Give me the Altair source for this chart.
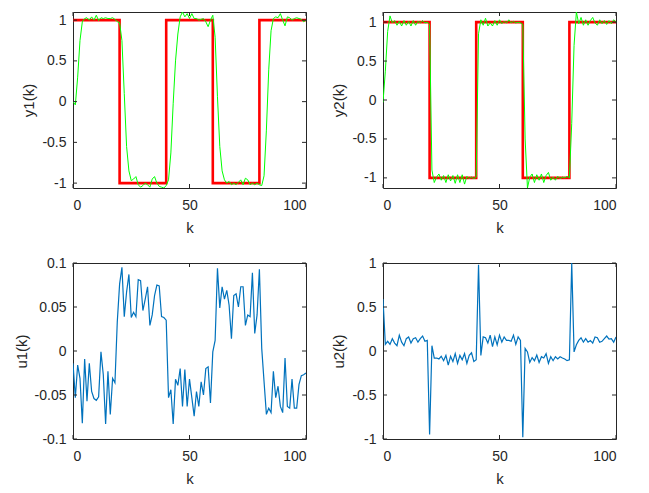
import altair as alt
import pandas as pd

# sample index
k = list(range(101))

# square-wave reference shared by both outputs
ref = [1] * 20 + [-1] * 20 + [1] * 20 + [-1] * 20 + [1] * 21

# output 1
y1 = [0.0, -0.04, 0.3, 0.75, 0.98, 1.02, 1.03, 1.0, 1.04, 1.0,
      1.06, 0.995, 1.03, 1.02, 1.03, 1.02, 1.02, 1.03, 1.01, 0.98,
      0.97, 0.75, 0.1, -0.55, -0.85, -0.97, -0.95, -0.92, -1.02, -1.05,
      -1.03, -1.0, -1.02, -1.05, -0.95, -0.92, -1.0, -1.04, -1.05, -1.06,
      -1.03, -0.96, -0.63, -0.02, 0.5, 0.83, 1.04, 1.1, 1.04, 1.08,
      1.02, 1.08, 1.02, 1.02, 1.0, 1.01, 1.02, 0.98, 0.92, 1.0,
      1.06, 0.79, 0.06, -0.55, -0.85, -0.96, -1.0, -0.98, -1.02, -1.0,
      -1.02, -0.99, -0.96, -1.02, -0.94, -0.96, -1.02, -1.0, -1.02, -1.0,
      -1.02, -1.03, -0.91, -0.35, 0.39, 0.87, 1.02, 1.04, 1.03, 1.08,
      1.0, 0.93, 1.04, 1.03, 1.0, 1.02, 1.03, 1.02, 1.01, 0.98, 1.0]

# output 2
y2 = [-0.03, 0.37, 0.88, 1.08, 0.99, 1.02, 0.96, 1.01, 0.95, 1.02,
      0.96, 1.01, 0.95, 1.02, 0.96, 1.01, 0.99, 1.02, 0.99, 1.0,
      0.97, -0.9, -1.06, -0.99, -0.95, -1.03, -0.97, -1.06, -0.96, -1.04,
      -0.97, -1.07, -0.96, -1.06, -0.96, -1.08, -0.98, -1.01, -0.99, -1.01,
      -0.99, 0.85, 1.03, 0.96, 1.05, 0.95, 0.99, 0.95, 1.02, 0.96,
      1.03, 0.98, 1.01, 0.99, 1.03, 0.99, 1.01, 0.99, 1.0, 0.99,
      0.97, -0.5, -1.13, -0.99, -0.95, -1.06, -0.96, -1.03, -0.95, -1.06,
      -0.97, -0.93, -1.03, -0.99, -1.03, -0.98, -1.01, -0.99, -1.0, -0.98,
      -1.0, -0.3, 0.7, 1.13, 0.98, 1.06, 0.96, 1.03, 0.96, 1.02,
      1.06, 0.99, 0.96, 1.03, 0.98, 1.02, 0.97, 1.02, 0.98, 1.03, 1.0]

# control input 1
u1 = [-0.014, -0.053, -0.016, -0.031, -0.082, -0.009, -0.057, -0.014, -0.046, -0.054,
      -0.056, -0.052, -0.001, -0.027, -0.083, -0.023, -0.072, -0.031, -0.036, 0.033,
      0.076, 0.095, 0.039, 0.067, 0.087, 0.038, 0.044, 0.039, 0.081, 0.080,
      0.046, 0.059, 0.073, 0.029, 0.041, 0.063, 0.075, 0.074, 0.039, 0.038,
      0.035, -0.053, -0.044, -0.083, -0.032, -0.039, -0.020, -0.063, -0.021, -0.063,
      -0.032, -0.053, -0.074, -0.046, -0.063, -0.035, -0.050, -0.020, -0.018, -0.059,
      -0.001, 0.012, 0.094, 0.049, 0.073, 0.059, 0.069, 0.052, 0.014, 0.063,
      0.065, 0.050, 0.073, 0.073, 0.029, 0.041, 0.039, 0.089, 0.020, 0.041,
      0.093, 0.003, -0.035, -0.072, -0.065, -0.070, -0.023, -0.053, -0.040, -0.063,
      -0.070, -0.008, -0.063, -0.065, -0.032, -0.065, -0.065, -0.038, -0.028, -0.027, -0.025]

# control input 2
u2 = [0.59, 0.075, 0.11, 0.075, 0.14, 0.09, 0.06, 0.18, 0.10, 0.06,
      0.14, 0.16, 0.09, 0.14, 0.15, 0.10, 0.14, 0.17, 0.11, 0.12,
      -0.95, 0.06, -0.08, -0.08, -0.09, -0.06, -0.11, -0.05, -0.16, -0.06,
      -0.12, -0.03, -0.14, -0.05, -0.10, -0.03, -0.14, -0.05, -0.02, -0.12,
      -0.10, 0.98, -0.05, 0.16, 0.15, 0.09, 0.18, 0.05, 0.16, 0.07,
      0.18, 0.10, 0.16, 0.12, 0.12, 0.11, 0.18, 0.075, 0.16, 0.12,
      -0.98, 0.03, -0.01, -0.13, -0.075, -0.11, -0.045, -0.13, -0.065, -0.08,
      -0.03, -0.14, -0.065, -0.11, -0.065, -0.09, -0.065, -0.08, -0.09, -0.11,
      -0.10, 1.0, -0.01, 0.07, 0.12, 0.15, 0.10, 0.14, 0.10, 0.12,
      0.09, 0.16, 0.15, 0.10, 0.11, 0.14, 0.17, 0.135, 0.14, 0.10, 0.16]

x_ticks = [0, 50, 100]
y_ticks = [-1, -0.5, 0, 0.5, 1]
u1_ticks = [-0.1, -0.05, 0, 0.05, 0.1]

W, H = 233, 176
TL = 4  # inward tick length
FRAME = "#262626"
FONT = "Liberation Sans"
PLAIN = "'' + datum.value"  # plain number text, e.g. 0.5, -0.05, 100


def panel(series, title, domain, ticks, with_ref=False):
    xs = alt.Scale(domain=[0, 100], nice=False, zero=False)
    ys = alt.Scale(domain=domain, nice=False, zero=False)
    xa = alt.Axis(values=x_ticks, labelExpr=PLAIN, title="k")
    ya = alt.Axis(values=ticks, labelExpr=PLAIN, title=title)

    layers = []
    dout = pd.DataFrame({"k": k, "v": series})
    if with_ref:
        dref = pd.DataFrame({"k": k, "v": ref})
        layers.append(
            alt.Chart(dref).mark_line(color="#FF0000", strokeWidth=2.6,
                                      interpolate="step-after", clip=True)
            .encode(x=alt.X("k:Q", scale=xs, axis=xa),
                    y=alt.Y("v:Q", scale=ys, axis=ya))
        )
        layers.append(
            alt.Chart(dout).mark_line(color="#00FF00", strokeWidth=1, clip=True)
            .encode(x=alt.X("k:Q", scale=xs, axis=xa),
                    y=alt.Y("v:Q", scale=ys, axis=ya))
        )
    else:
        layers.append(
            alt.Chart(dout).mark_line(color="#0072BD", strokeWidth=1.2, clip=True)
            .encode(x=alt.X("k:Q", scale=xs, axis=xa),
                    y=alt.Y("v:Q", scale=ys, axis=ya))
        )

    # inward tick marks on all four sides of the box
    dy = pd.DataFrame({"t": ticks})
    dx = pd.DataFrame({"t": x_ticks})
    tick = dict(color=FRAME, strokeWidth=1)
    layers += [
        alt.Chart(dy).mark_rule(**tick).encode(
            y=alt.Y("t:Q", scale=ys), x=alt.value(0), x2=alt.value(TL)),
        alt.Chart(dy).mark_rule(**tick).encode(
            y=alt.Y("t:Q", scale=ys), x=alt.value(W - TL), x2=alt.value(W)),
        alt.Chart(dx).mark_rule(**tick).encode(
            x=alt.X("t:Q", scale=xs), y=alt.value(H), y2=alt.value(H - TL)),
        alt.Chart(dx).mark_rule(**tick).encode(
            x=alt.X("t:Q", scale=xs), y=alt.value(0), y2=alt.value(TL)),
    ]
    return alt.layer(*layers).properties(width=W, height=H)


chart = alt.concat(
    panel(y1, "y1(k)", [-1.06, 1.1], y_ticks, with_ref=True),
    panel(y2, "y2(k)", [-1.13, 1.13], y_ticks, with_ref=True),
    panel(u1, "u1(k)", [-0.1, 0.1], u1_ticks),
    panel(u2, "u2(k)", [-1, 1], y_ticks),
    columns=2,
    spacing={"row": 19, "column": 24},
).properties(
    padding={"left": 13, "top": 11, "right": 5, "bottom": 5},
    background="white",
).configure_view(
    stroke=FRAME, strokeWidth=1,
).configure_axis(
    grid=False, domain=False, ticks=False, tickSize=0,
    labelFont=FONT, labelFontSize=14, labelColor=FRAME, labelPadding=7,
    titleFont=FONT, titleFontSize=15, titleFontWeight="normal",
    titleColor=FRAME, titlePadding=5,
).configure_axisX(
    labelPadding=10, titlePadding=8,
)

chart.save("out.html", embed_options={"renderer": "svg", "actions": False})
